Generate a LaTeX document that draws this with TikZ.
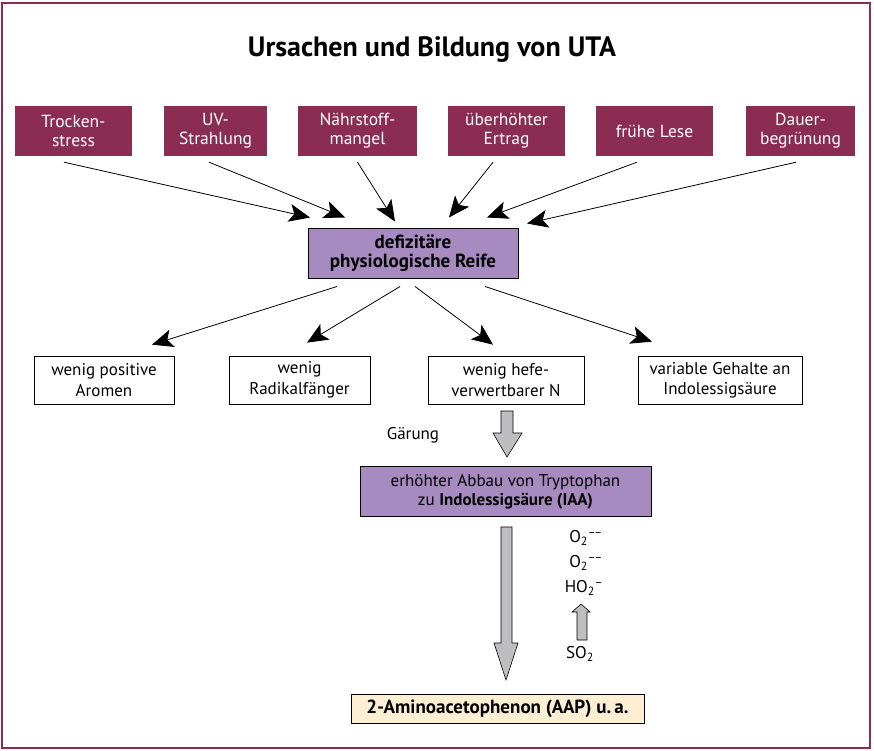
\documentclass[tikz,border=0pt]{standalone}
\usepackage{fontspec}
\setmainfont{PT Sans}
\usetikzlibrary{arrows.meta}
\definecolor{weinrot}{RGB}{139,44,82}
\definecolor{lila}{RGB}{167,139,192}
\definecolor{grau}{RGB}{190,190,193}
\definecolor{creme}{RGB}{253,239,212}
\begin{document}
\begin{tikzpicture}[x=1pt,y=-1pt,
    ursache/.style={fill=weinrot,text=white,align=center,inner sep=0pt,
      minimum height=50pt,font=\fontsize{17.5}{19}\selectfont},
    folge/.style={draw=black,line width=0.7pt,fill=white,align=center,inner sep=0pt,
      minimum height=48pt,font=\fontsize{17}{20.5}\selectfont},
    lilabox/.style={draw=black,line width=1pt,fill=lila,align=center,inner sep=0pt,
      minimum height=50pt},
    pfeil/.style={line width=0.8pt,-{Stealth[length=21pt,width=18pt,inset=5pt]}},
    block/.style={draw=black,line width=0.6pt,fill=grau},
    klein/.style={font=\fontsize{17}{19}\selectfont,inner sep=0pt}]
  \useasboundingbox (0,0) rectangle (874,751);
  \draw[weinrot,line width=2pt] (2,3) rectangle (870,748);
  \node[font=\fontsize{28}{30}\selectfont\bfseries] (titel) at (432,50) {Ursachen und Bildung von UTA};
  \node[ursache,minimum width=117pt] (trocken) at (73.5,131) {Trocken-\\stress};
  \node[ursache,minimum width=103pt] (uv) at (215.5,131) {UV-\\Strahlung};
  \node[ursache,minimum width=119pt] (naehr) at (357.5,131) {Nährstoff-\\mangel};
  \node[ursache,minimum width=117pt] (ertrag) at (506.5,131) {überhöhter\\Ertrag};
  \node[ursache,minimum width=117pt] (lese) at (654.5,131) {frühe Lese};
  \node[ursache,minimum width=109pt] (dauer) at (800.5,131) {Dauer-\\begrünung};
  \node[lilabox,minimum width=210pt,font=\fontsize{19}{19}\selectfont\bfseries] (reife) at (413,253) {defizitäre\\physiologische Reife};
  \draw[pfeil] ([xshift=-9.5pt,yshift=-6pt]trocken.south) -- ([xshift=-103pt,yshift=10pt]reife.north);
  \draw[pfeil] ([xshift=-6.5pt,yshift=-6pt]uv.south) -- ([xshift=-68pt,yshift=10pt]reife.north);
  \draw[pfeil] ([yshift=-6pt]naehr.south) -- ([xshift=-18pt,yshift=6pt]reife.north);
  \draw[pfeil] ([xshift=-13.5pt,yshift=-6pt]ertrag.south) -- ([xshift=36pt,yshift=10pt]reife.north);
  \draw[pfeil] ([xshift=-17.5pt,yshift=-6pt]lese.south) -- ([xshift=74pt,yshift=10pt]reife.north);
  \draw[pfeil] ([xshift=-4.5pt,yshift=-6pt]dauer.south) -- ([xshift=114pt,yshift=4pt]reife.north);
  \node[folge,minimum width=140pt] (aromen) at (104,380) {wenig positive\\Aromen};
  \node[folge,minimum width=141pt] (radikal) at (299.5,380) {wenig\\Radikalfänger};
  \node[folge,minimum width=156pt] (hefe) at (506,380) {wenig hefe-\\verwertbarer N};
  \node[folge,minimum width=164pt] (gehalte) at (720,380) {variable Gehalte an\\Indolessigsäure};
  \draw[pfeil] ([xshift=-76pt,yshift=-8pt]reife.south) -- ([xshift=48pt,yshift=11pt]aromen.north);
  \draw[pfeil] ([xshift=-13pt,yshift=-8pt]reife.south) -- ([xshift=7.5pt,yshift=13pt]radikal.north);
  \draw[pfeil] ([xshift=2pt,yshift=-8pt]reife.south) -- ([xshift=-13pt,yshift=11pt]hefe.north);
  \draw[pfeil] ([xshift=72pt,yshift=-8pt]reife.south) -- ([xshift=-68pt,yshift=14pt]gehalte.north);
  \draw[block] (501,411) -- (513,411) -- (513,433) -- (522,433) -- (507,457) -- (493,433) -- (501,433) -- cycle;
  \node[klein] (gaerung) at (413,435) {Gärung};
  \node[lilabox,minimum width=291pt,font=\fontsize{17}{19}\selectfont] (iaa) at (505.5,491.5) {erhöhter Abbau von Tryptophan\\zu \textbf{Indolessigsäure (IAA)}};
  \draw[block] (501,527) -- (512,527) -- (512,643) -- (518,643) -- (506,680) -- (494,643) -- (501,643) -- cycle;
  \node[klein] (oa) at (586,538) {O\textsubscript{2}\textsuperscript{--\kern-1.5pt--}};
  \node[klein] (ob) at (586,563) {O\textsubscript{2}\textsuperscript{--\kern-1.5pt--}};
  \node[klein] (ho) at (584,588) {HO\textsubscript{2}\textsuperscript{--}};
  \draw[block] (577,640) -- (587,640) -- (587,612) -- (590,612) -- (581,604) -- (572,612) -- (577,612) -- cycle;
  \node[klein] (so) at (580,654) {SO\textsubscript{2}};
  \node[draw=black,line width=1pt,fill=creme,inner sep=0pt,minimum width=293pt,minimum height=29pt,
    font=\fontsize{19}{19}\selectfont\bfseries] (aap) at (497.5,708.5) {2-Aminoacetophenon (AAP) u.\,a.};
\end{tikzpicture}
\end{document}
